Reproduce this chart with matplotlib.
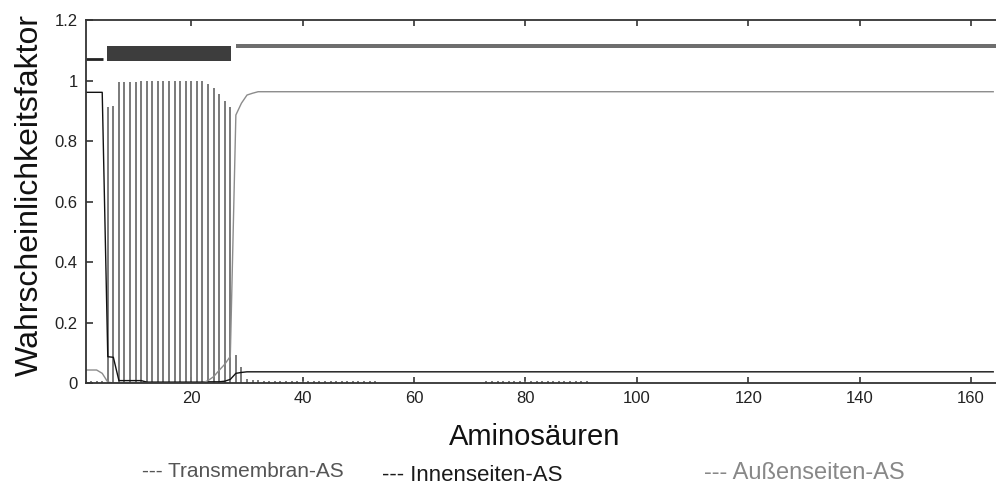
import matplotlib
matplotlib.use('Agg')
import matplotlib.pyplot as plt
import numpy as np

# residue numbers 1..164
residues = np.arange(1, 165)

# posterior probabilities (runs of equal values)
inside = ([0.961] * 4 + [0.087, 0.085] + [0.008] * 5 + [0.003] * 11
          + [0.004] * 3 + [0.006, 0.012, 0.032, 0.035] + [0.037] * 135)
outside = ([0.043] * 3 + [0.032, 0.003] + [0.0] * 17
           + [0.008, 0.021, 0.042, 0.062, 0.088, 0.886, 0.925, 0.952, 0.958]
           + [0.963] * 133)
transmem = ([0.006] * 4 + [0.913, 0.917] + [0.994] * 4 + [0.999] * 12
            + [0.988, 0.975, 0.954, 0.932, 0.912, 0.093, 0.054, 0.013, 0.010, 0.010]
            + [0.006] * 21 + [0.0] * 19 + [0.006] * 19 + [0.0] * 73)

# predicted topology: (start, end)
seg_inside = (1, 4)
seg_tm = (5, 27)
seg_outside = (28, 164)

xticks = [20, 40, 60, 80, 100, 120, 140, 160]
yticks = [0, 0.2, 0.4, 0.6, 0.8, 1.0, 1.2]

plt.rcParams['font.family'] = ['Liberation Sans', 'DejaVu Sans']

fig = plt.figure(figsize=(9.96, 4.86), dpi=100)
ax = fig.add_axes([0.0863, 0.2119, 0.9137, 0.7469])

ax.vlines(residues, 0, transmem, color='#7a7a7a', lw=1.4)
ax.plot(residues, inside, color='#111111', lw=1.0)
ax.plot(residues, outside, color='#8c8c8c', lw=1.0)

# topology bars on top
ax.hlines(1.07, seg_inside[0], seg_inside[1] + 0.1, color='#222222', lw=2.0)
ax.fill_between([seg_tm[0] - 0.1, seg_tm[1] + 0.2], 1.066, 1.115,
                color='#3d3d3d', lw=0)
ax.fill_between([seg_outside[0], seg_outside[1] + 1], 1.106, 1.122,
                color='#6e6e6e', lw=0)

ax.set_xlim(1.08, 164.5)
ax.set_ylim(0, 1.2)
ax.set_xticks(xticks)
ax.set_yticks(yticks)
ax.set_xticklabels([str(t) for t in xticks], fontsize=12, color='#222222')
ax.set_yticklabels(['%g' % t for t in yticks], fontsize=12, color='#222222')
ax.tick_params(axis='x', direction='in', top=True, length=4, width=1.2, color='#333333', pad=6)
ax.tick_params(axis='y', direction='in', length=5, width=1.2, color='#333333', pad=6)
for side in ['left', 'top', 'bottom']:
    ax.spines[side].set_color('#333333')
    ax.spines[side].set_linewidth(1.3)
ax.spines['right'].set_visible(False)

fig.text(0.030, 0.599, 'Wahrscheinlichkeitsfaktor', rotation=90, fontsize=23,
         ha='center', va='center', color='#111111')
fig.text(0.537, 0.101, 'Aminosäuren', fontsize=21, ha='center', va='center', color='#111111')

fig.text(0.1426, 0.029, '--- Transmembran-AS', fontsize=15,
         ha='left', va='center', color='#555555')
fig.text(0.3835, 0.021, '--- Innenseiten-AS', fontsize=16,
         ha='left', va='center', color='#1a1a1a')
fig.text(0.7068, 0.027, '--- Außenseiten-AS', fontsize=17,
         ha='left', va='center', color='#888888')

plt.savefig('out.png', dpi=100)
